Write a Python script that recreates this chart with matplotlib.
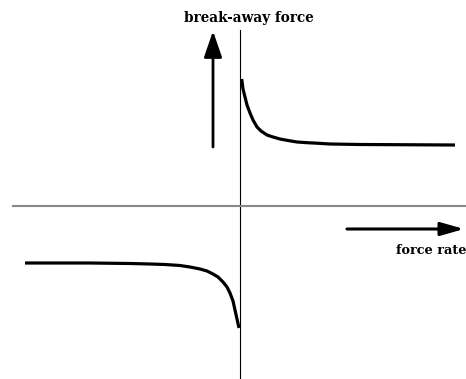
import matplotlib
matplotlib.use("Agg")
import matplotlib.pyplot as plt

# sketch curves (origin at axes crossing)
rate_pos = [1.7, 3, 5, 7, 10, 13, 17, 21, 27, 33, 40, 48, 57, 67, 77, 90, 120, 215]
force_pos = [127, 117, 109, 101, 93, 86, 79, 75, 71, 69, 67, 65.5, 64, 63.3, 62.8, 62, 61.5, 61]

rate_neg = [-215, -150, -110, -90, -75, -60, -50, -40, -33, -27, -22, -17, -13, -10, -7, -5, -3, -1]
force_neg = [-57, -57, -57.5, -58, -58.5, -59.5, -61, -63, -65, -68, -71, -76, -81, -87, -95, -104, -113, -122]

ylabel_text = "break-away force"
xlabel_text = "force rate"

fig = plt.figure(figsize=(4.66, 3.79), dpi=100)
ax = fig.add_axes([0, 0, 1, 1])
ax.set_xlim(-240, 226)
ax.set_ylim(-173, 206)
ax.axis("off")

# axes lines
ax.plot([0, 0], [-173, 176], color="black", lw=0.8)
ax.plot([-227, 226], [0, 0], color="#888888", lw=1.5)

# curves
ax.plot(rate_pos, force_pos, color="black", lw=2.3, solid_capstyle="butt", solid_joinstyle="round")
ax.plot(rate_neg, force_neg, color="black", lw=2.3, solid_capstyle="butt", solid_joinstyle="round")

# arrows
ax.annotate("", xy=(-27, 175), xytext=(-27, 59),
            arrowprops=dict(arrowstyle="-|>,head_length=1.6,head_width=0.55",
                            color="black", lw=2, shrinkA=0, shrinkB=0))
ax.annotate("", xy=(224, -23), xytext=(107, -23),
            arrowprops=dict(arrowstyle="-|>,head_length=1.4,head_width=0.4",
                            color="black", lw=2.2, shrinkA=0, shrinkB=0))

ax.text(9, 188, ylabel_text, ha="center", va="center", fontsize=9.8,
        family="DejaVu Serif", weight="bold")
ax.text(226, -45, xlabel_text, ha="right", va="center", fontsize=9.3,
        family="DejaVu Serif", weight="bold")

fig.savefig("out.png", dpi=100)
